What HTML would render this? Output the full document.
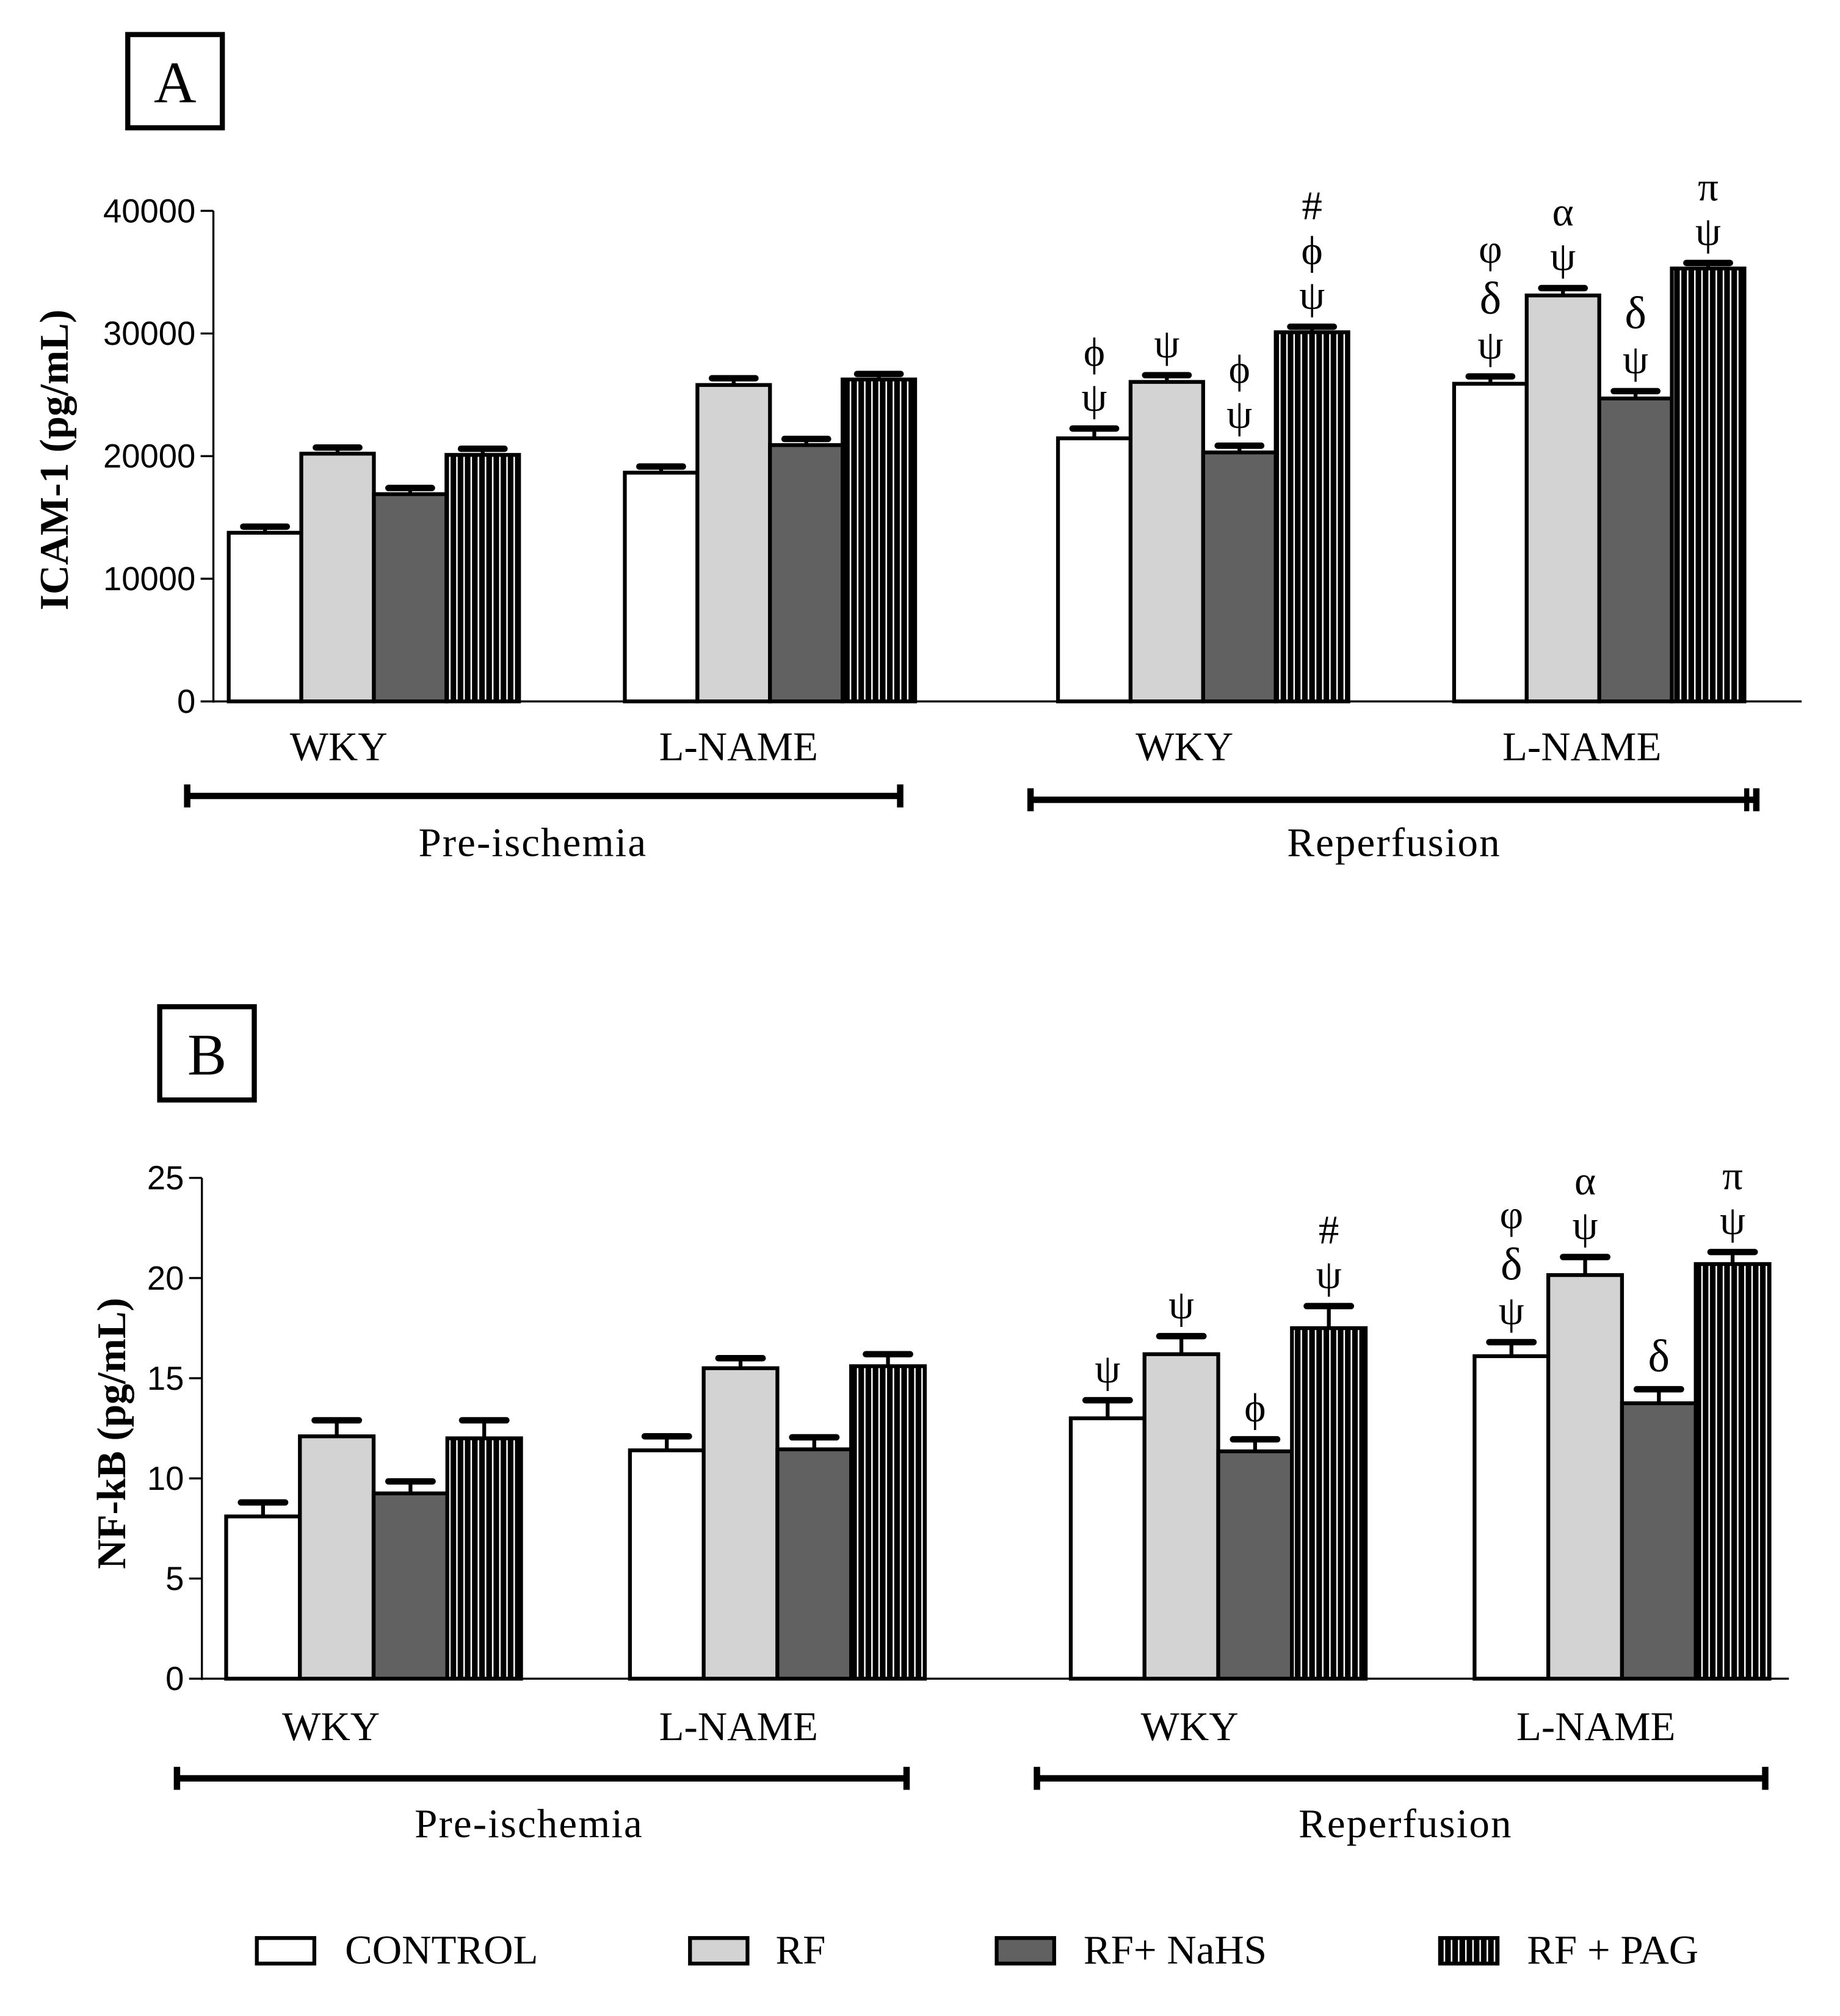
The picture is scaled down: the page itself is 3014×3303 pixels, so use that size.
<!DOCTYPE html>
<html><head><meta charset="utf-8"><style>
html,body{margin:0;padding:0;background:#fff;}
svg{display:block;}
text{font-family:"Liberation Serif",serif;fill:#000;}
.sans{font-family:"Liberation Sans",sans-serif;}
</style></head><body>
<svg id="fig" width="3014" height="3303" viewBox="0 0 1440 1578" xmlns="http://www.w3.org/2000/svg">
<defs>
<pattern id="stripes" patternUnits="userSpaceOnUse" width="5.6" height="10">
<rect width="5.6" height="10" fill="#000"/>
<rect x="4.2" width="1.2" height="10" fill="#fff"/>
</pattern>
</defs>
<g id="root"></g>
</svg>
<script>
// ---- data ----
const groups = ["WKY","L-NAME","WKY","L-NAME"];
const seriesNames = ["CONTROL","RF","RF+ NaHS","RF + PAG"];
const icamCtrl = [13750, 18650, 21450, 25900];
const icamRF   = [20200, 25800, 26050, 33100];
const icamNaHS = [16900, 20900, 20300, 24700];
const icamPAG  = [20100, 26250, 30100, 35300];
const icamErrCtrl = [500, 500, 800, 600];
const icamErrRF   = [500, 550, 550, 600];
const icamErrNaHS = [500, 500, 550, 600];
const icamErrPAG  = [500, 450, 450, 450];
const icamTicks = [0, 10000, 20000, 30000, 40000];
const nfCtrl = [8.1, 11.4, 13.0, 16.1];
const nfRF   = [12.1, 15.5, 16.2, 20.15];
const nfNaHS = [9.25, 11.45, 11.35, 13.75];
const nfPAG  = [12.0, 15.6, 17.5, 20.7];
const nfErrCtrl = [0.7, 0.7, 0.9, 0.7];
const nfErrRF   = [0.8, 0.5, 0.9, 0.9];
const nfErrNaHS = [0.6, 0.6, 0.6, 0.7];
const nfErrPAG  = [0.9, 0.6, 1.1, 0.6];
const nfTicks = [0, 5, 10, 15, 20, 25];
const icamAnn = [[2,0,["ψ","ϕ"]],[2,1,["ψ"]],[2,2,["ψ","ϕ"]],[2,3,["ψ","ϕ","#"]],
  [3,0,["ψ","δ","φ"]],[3,1,["ψ","α"]],[3,2,["ψ","δ"]],[3,3,["ψ","π"]]];
const nfAnn = [[2,0,["ψ"]],[2,1,["ψ"]],[2,2,["ϕ"]],[2,3,["ψ","#"]],
  [3,0,["ψ","δ","φ"]],[3,1,["ψ","α"]],[3,2,["δ"]],[3,3,["ψ","π"]]];

const NS="http://www.w3.org/2000/svg";
const root=document.getElementById('root');
function el(tag,attrs,parent){const e=document.createElementNS(NS,tag);for(const k in attrs)e.setAttribute(k,attrs[k]);(parent||root).appendChild(e);return e;}
const fills=["#fff","#d3d3d3","#616161","url(#stripes)"];

function panel(cfg){
  const g=el('g',{});
  
  
  const y=v=>cfg.y0-(v-cfg.vmin)/(cfg.vmax-cfg.vmin)*(cfg.y0-cfg.y1);
  const b=el('rect',{x:cfg.box[0],y:cfg.box[1],width:74,height:73,fill:'none',stroke:'#000','stroke-width':4},g);
  
  
  const bt=el('text',{x:cfg.box[0]+37,y:cfg.box[1]+53,'font-size':46,'text-anchor':'middle'},g);bt.textContent=cfg.letter;
  
  
  const ya=el('line',{x1:cfg.ax,y1:cfg.y1,x2:cfg.ax,y2:cfg.y0+1,stroke:'#000','stroke-width':1.6},g);
  
  
  const xa=el('line',{x1:cfg.ax,y1:cfg.y0,x2:cfg.xend,y2:cfg.y0,stroke:'#000','stroke-width':1.6},g);
  
  
  cfg.ticks.forEach(t=>{
    const ty=y(t);
    const tl=el('line',{x1:cfg.ax-10,y1:ty,x2:cfg.ax,y2:ty,stroke:'#000','stroke-width':1.6},g);
    
    
    const tt=el('text',{x:cfg.ax-14,y:ty+9,'font-size':26,'text-anchor':'end',class:'sans'},g);tt.textContent=t;
    
    
  });
  const yt=el('text',{x:0,y:0,'font-size':32,'font-weight':'bold','text-anchor':'middle',transform:`translate(${cfg.titleX},${cfg.titleY}) rotate(-90)`},g);
  yt.textContent=cfg.title;
  
  
  const vals=[cfg.ctrl,cfg.rf,cfg.nahs,cfg.pag], errs=[cfg.eCtrl,cfg.eRF,cfg.eNaHS,cfg.ePAG];
  const bw=cfg.bw;
  function bx(gi,si){return cfg.gx[gi]+si*bw;}
  for(let gi=0;gi<4;gi++){for(let si=0;si<4;si++){
    const v=vals[si][gi], e=errs[si][gi], x=bx(gi,si), cx=x+bw/2;
    const top=y(v), et=y(v+e);
    const eb=el('line',{x1:cx,y1:top,x2:cx,y2:et,stroke:'#000','stroke-width':3},g);
    
    
    const cap=el('line',{x1:cx-bw*0.3,y1:et,x2:cx+bw*0.3,y2:et,stroke:'#000','stroke-width':5,'stroke-linecap':'round'},g);
    
    
    const r=el('rect',{x:x,y:top,width:bw,height:cfg.y0-top,fill:fills[si],stroke:'#000','stroke-width':3},g);
    
    
  }}
  cfg.ann.forEach(a=>{
    const [gi,si,syms]=a; const v=vals[si][gi]+errs[si][gi];
    const cx=bx(gi,si)+bw/2; let yy=y(v)-14;
    syms.forEach(s=>{
      const t=el('text',{x:cx,y:yy,'font-size':(s==='δ'?36:32),'text-anchor':'middle'},g);t.textContent=s;
      
      
      yy-=(s==='δ'?40:35);
    });
  });
  groups.forEach((n,i)=>{
    const t=el('text',{x:cfg.labX[i],y:cfg.labY,'font-size':32,'text-anchor':'middle'},g);t.textContent=n;
    
    
  });
  cfg.brackets.forEach(br=>{
    const [x1,x2,ly,label,lx,dbl]=br;
    const l=el('line',{x1:x1,y1:ly,x2:x2,y2:ly,stroke:'#000','stroke-width':5},g);
    
    
    el('rect',{x:x1-2,y:ly-9,width:5,height:18,fill:'#000'},g);
    el('rect',{x:x2-3,y:ly-9,width:5,height:18,fill:'#000'},g);
    if(dbl) el('rect',{x:x2-10,y:ly-9,width:4,height:18,fill:'#000'},g);
    const t=el('text',{x:lx,y:cfg.phaseY,'font-size':32,'text-anchor':'middle','letter-spacing':1},g);t.textContent=label;
    
    
  });
}

panel({name:'panel-a-icam',letter:'A',box:[100,27],ax:167,xend:1410,y0:549,y1:165,vmin:0,vmax:40000,
  ticks:icamTicks,title:'ICAM-1 (pg/mL)',titleX:53,titleY:360,bw:56.8,gx:[179,489,828,1138],
  ctrl:icamCtrl,rf:icamRF,nahs:icamNaHS,pag:icamPAG,eCtrl:icamErrCtrl,eRF:icamErrRF,eNaHS:icamErrNaHS,ePAG:icamErrPAG,
  ann:icamAnn,labX:[265,578,927,1238],labY:595,phaseY:670,
  brackets:[[146,705,623,'Pre-ischemia',417,false],[806,1375,626,'Reperfusion',1091,true]]});
panel({name:'panel-b-nfkb',letter:'B',box:[125,788],ax:158,xend:1400,y0:1314,y1:922,vmin:0,vmax:25,
  ticks:nfTicks,title:'NF-kB (pg/mL)',titleX:98,titleY:1122,bw:57.7,gx:[177,493,838,1154],
  ctrl:nfCtrl,rf:nfRF,nahs:nfNaHS,pag:nfPAG,eCtrl:nfErrCtrl,eRF:nfErrRF,eNaHS:nfErrNaHS,ePAG:nfErrPAG,
  ann:nfAnn,labX:[259,578,931,1249],labY:1362,phaseY:1438,
  brackets:[[138,710,1392,'Pre-ischemia',414,false],[811,1382,1392,'Reperfusion',1100,false]]});

const legX=[[201,270],[540,607],[780,848],[1127,1195]];
const leg=el('g',{});


seriesNames.forEach((n,i)=>{
  const r=el('rect',{x:legX[i][0],y:1517,width:45,height:20,fill:fills[i],stroke:'#000','stroke-width':3},leg);
  
  
  const t=el('text',{x:legX[i][1],y:1537,'font-size':32},leg);t.textContent=n;
  
  
});
</script>
</body></html>
